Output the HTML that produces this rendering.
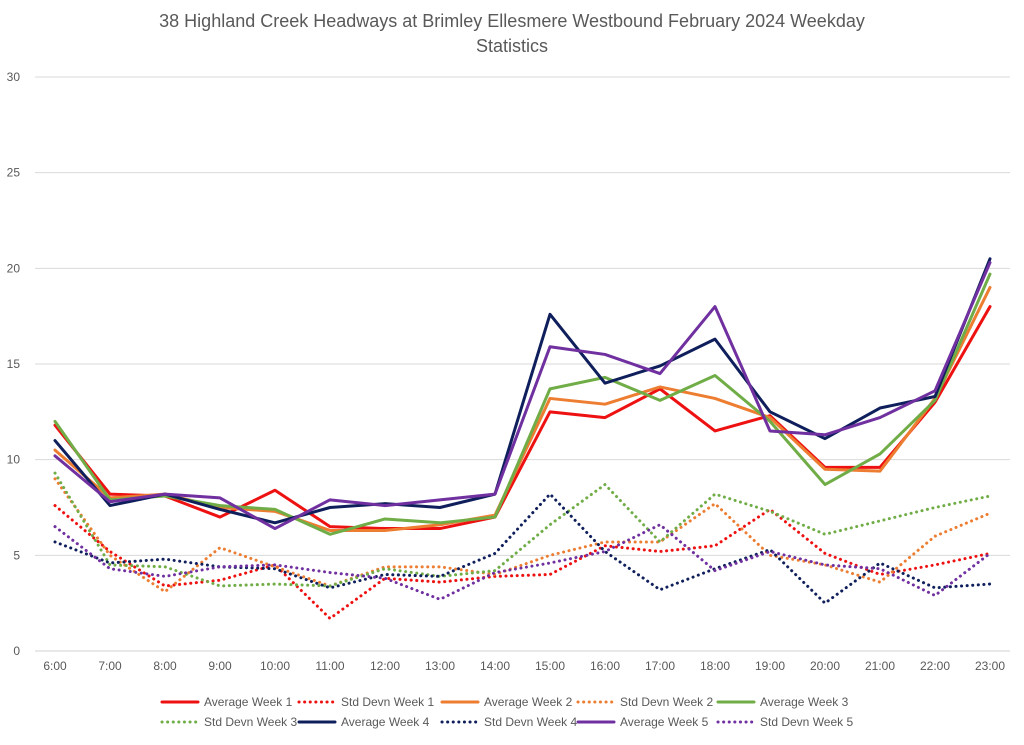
<!DOCTYPE html>
<html><head><meta charset="utf-8"><style>
body{margin:0;background:#fff;font-family:"Liberation Sans",sans-serif}
svg text{font-family:"Liberation Sans",sans-serif;fill:#595959}
</style></head><body>
<svg width="1024" height="740" id="c">
<text x="512" y="27" text-anchor="middle" font-size="18">38 Highland Creek Headways at Brimley Ellesmere Westbound February 2024 Weekday</text>
<text x="512" y="52" text-anchor="middle" font-size="18">Statistics</text>
<g id="grid"></g><g id="series"></g><g id="legend"></g>
</svg>
<script>
const categories=["6:00","7:00","8:00","9:00","10:00","11:00","12:00","13:00","14:00","15:00","16:00","17:00","18:00","19:00","20:00","21:00","22:00","23:00"];
const yTicks=[0,5,10,15,20,25,30];
const avgW1=[11.8,8.2,8.1,7.0,8.4,6.5,6.4,6.4,7.0,12.5,12.2,13.7,11.5,12.3,9.6,9.6,13.0,18.0];
const sdW1=[7.6,5.2,3.4,3.7,4.5,1.7,3.8,3.6,3.9,4.0,5.5,5.2,5.5,7.4,5.1,4.0,4.5,5.1];
const avgW2=[10.5,8.0,8.2,7.5,7.3,6.3,6.3,6.6,7.1,13.2,12.9,13.8,13.2,12.2,9.5,9.4,13.2,19.0];
const sdW2=[9.0,5.0,3.1,5.4,4.4,3.4,4.4,4.4,4.0,5.0,5.7,5.7,7.7,5.0,4.5,3.6,6.0,7.2];
const avgW3=[12.0,7.9,8.1,7.6,7.4,6.1,6.9,6.7,7.0,13.7,14.3,13.1,14.4,12.0,8.7,10.3,13.1,19.7];
const sdW3=[9.3,4.5,4.4,3.4,3.5,3.4,4.3,3.9,4.2,6.6,8.7,5.7,8.2,7.3,6.1,6.8,7.5,8.1];
const avgW4=[11.0,7.6,8.2,7.4,6.7,7.5,7.7,7.5,8.2,17.6,14.0,14.9,16.3,12.5,11.1,12.7,13.3,20.5];
const sdW4=[5.7,4.6,4.8,4.4,4.3,3.3,4.0,3.9,5.1,8.2,5.2,3.2,4.3,5.3,2.5,4.6,3.3,3.5];
const avgW5=[10.2,7.8,8.2,8.0,6.4,7.9,7.6,7.9,8.2,15.9,15.5,14.5,18.0,11.5,11.3,12.2,13.6,20.3];
const sdW5=[6.5,4.3,3.9,4.4,4.5,4.1,3.8,2.7,4.1,4.6,5.2,6.6,4.2,5.2,4.5,4.3,2.9,5.1];
const seriesNames=["Average Week 1","Std Devn Week 1","Average Week 2","Std Devn Week 2","Average Week 3","Std Devn Week 3","Average Week 4","Std Devn Week 4","Average Week 5","Std Devn Week 5"];
const seriesData=[avgW1,sdW1,avgW2,sdW2,avgW3,sdW3,avgW4,sdW4,avgW5,sdW5];
const colors=["#ee1111","#ee1111","#ed7d31","#ed7d31","#70ad47","#70ad47","#0f1f5c","#0f1f5c","#7030a0","#7030a0"];
const NS="http://www.w3.org/2000/svg";
const x0=27.5,x1=1017.5,yTop=77,yBot=651,yMax=30;
const bw=(x1-x0)/categories.length;
const xs=i=>x0+bw*(i+0.5);
const ys=v=>yBot-(v/yMax)*(yBot-yTop);
function mk(t,a,p){const e=document.createElementNS(NS,t);for(const k in a)e.setAttribute(k,a[k]);p.appendChild(e);return e;}
const grid=document.getElementById('grid');
yTicks.forEach(v=>{
 const l=mk('line',{x1:35,x2:1010,y1:ys(v),y2:ys(v),stroke:v===0?'#d0d0d0':'#d9d9d9','stroke-width':1},grid);
 
 
 const t=mk('text',{x:20,y:ys(v)+4,'text-anchor':'end','font-size':12},grid);t.textContent=v;
 
 
});
categories.forEach((c,i)=>{
 const t=mk('text',{x:xs(i),y:670,'text-anchor':'middle','font-size':12},grid);t.textContent=c;
 
 
});
const sg=document.getElementById('series');
seriesData.forEach((d,s)=>{
 const dotted=s%2===1;
 const p=mk('polyline',{points:d.map((v,i)=>xs(i)+','+ys(v)).join(' '),fill:'none',stroke:colors[s],'stroke-width':dotted?2.5:3,'stroke-linejoin':'round','stroke-linecap':'round'},sg);
 if(dotted){p.setAttribute('stroke-dasharray','0.1 5.5');p.setAttribute('stroke-width',3);}
 
 
});
const lg=document.getElementById('legend');
const lx=[162,299,442,578,718,162,299,442,578,718];
seriesNames.forEach((n,s)=>{
 const row=s<5?0:1,yy=row?722:702;
 const g=mk('g',{},lg);
 
 
 const l=mk('line',{x1:lx[s],x2:lx[s]+36,y1:yy,y2:yy,stroke:colors[s],'stroke-width':3,'stroke-linecap':'round'},g);
 if(s%2===1)l.setAttribute('stroke-dasharray','0.1 5.5');
 const t=mk('text',{x:lx[s]+42,y:yy+4,'font-size':12},g);t.textContent=n;
});
</script>
</body></html>
